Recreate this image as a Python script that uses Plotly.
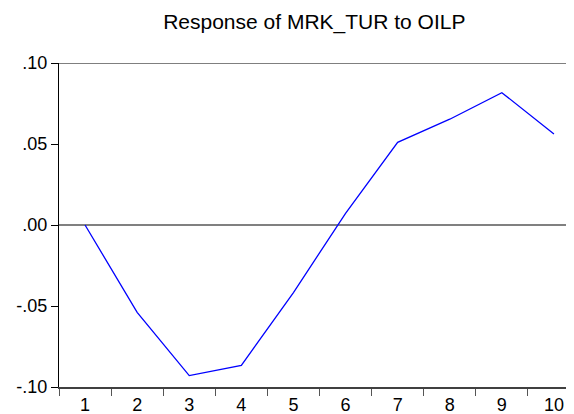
import plotly.graph_objects as go

# impulse response
periods = [str(p) for p in range(1, 11)]
response = [0.0, -0.0539, -0.0930, -0.0866, -0.0417, 0.0072, 0.0510, 0.0653, 0.0817, 0.0562]

y_ticks = [0.10, 0.05, 0.00, -0.05, -0.10]
y_labels = [".10", ".05", ".00", "-.05", "-.10"]

FONT = "Liberation Sans, Arial, sans-serif"

fig = go.Figure()
fig.add_trace(go.Scatter(
    x=periods,
    y=response,
    mode="lines",
    line=dict(color="#0000FF", width=1.3),
    hoverinfo="x+y",
))

# top border of the frame
fig.add_shape(type="line", xref="paper", yref="y", x0=0, x1=1, y0=0.10, y1=0.10,
              line=dict(color="#000000", width=1.2))

# the page body adds an 8px offset, so the margins are shifted to compensate
fig.update_layout(
    width=574,
    height=414,
    margin=dict(l=51, r=2, t=55, b=35),
    paper_bgcolor="white",
    plot_bgcolor="white",
    showlegend=False,
    font=dict(family=FONT, color="#000000"),
    title=dict(
        text="Response of MRK_TUR to OILP",
        x=0.49, xref="paper", xanchor="center",
        y=1 - 14 / 414, yref="container", yanchor="middle",
        font=dict(size=21, family=FONT, color="#000000"),
    ),
)

fig.update_xaxes(
    type="category",
    range=[-0.5, 9.5],
    tickson="boundaries",
    ticks="outside",
    ticklen=7,
    tickcolor="#555555",
    tickwidth=1,
    showline=True,
    linecolor="#404040",
    linewidth=2,
    showgrid=False,
    zeroline=False,
    tickfont=dict(size=18, family=FONT, color="#000000"),
)
fig.update_yaxes(
    range=[-0.10, 0.10],
    tickvals=y_ticks,
    ticktext=y_labels,
    ticks="outside",
    ticklen=7,
    tickcolor="#000000",
    tickwidth=1,
    ticklabelstandoff=0,
    showline=True,
    linecolor="#000000",
    linewidth=1.2,
    showgrid=False,
    zeroline=True,
    zerolinecolor="#808080",
    zerolinewidth=1.5,
    tickfont=dict(size=18, family=FONT, color="#000000"),
)

fig.write_html("out.html")
